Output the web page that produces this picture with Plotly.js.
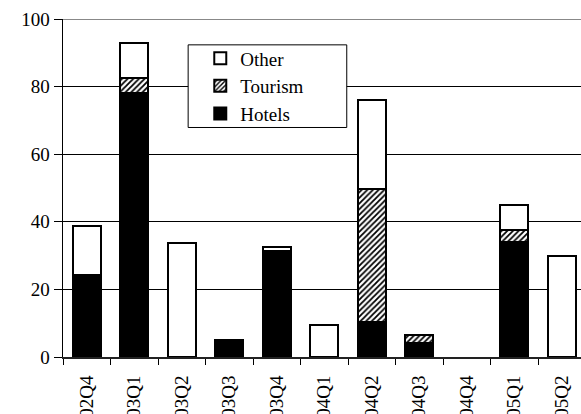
<!DOCTYPE html>
<html>
<head>
<meta charset="utf-8">
<script src="https://cdn.plot.ly/plotly-3.0.1.min.js"></script>
<style>html,body{margin:0;padding:0;background:#fff;overflow:hidden}#chart{width:581px;height:414px}</style>
</head>
<body>
<div id="chart"></div>
<script>
const categories = ["02Q4","03Q1","03Q2","03Q3","03Q4","04Q1","04Q2","04Q3","04Q4","05Q1","05Q2"];
const hotels  = [24.2, 78.0, 0, 4.9, 31.3, 0, 10.4, 4.0, 0, 34.1, 0];
const tourism = [0, 4.5, 0, 0, 0, 0, 39.2, 2.4, 0, 3.6, 0];
const other   = [14.7, 10.3, 33.6, 0, 1.3, 9.4, 26.5, 0, 0, 7.4, 29.8];
const yTicks = [0, 20, 40, 60, 80, 100];

const fam = "Times New Roman";
const font = {family: fam, size: 19, color: "#000"};
const outline = {color: "#000", width: 2};
const nz = a => a.map(v => (v === 0 ? null : v));

const traces = [
  {type: "bar", name: "Hotels", x: categories, y: nz(hotels),
   marker: {color: "#000", line: outline}},
  {type: "bar", name: "Tourism", x: categories, y: nz(tourism),
   marker: {color: "#fff", line: outline,
     pattern: {shape: "/", fgcolor: "#000", bgcolor: "#fff", size: 4, solidity: 0.45}}},
  {type: "bar", name: "Other", x: categories, y: nz(other),
   marker: {color: "#fff", line: outline}}
];

const layout = {
  width: 581, height: 414,
  margin: {l: 63, r: 0, t: 19, b: 57, pad: 0},
  paper_bgcolor: "#fff", plot_bgcolor: "#fff",
  barmode: "stack", bargap: 0.41,
  font: font,
  showlegend: true,
  legend: {x: 0.265, y: 0.94, xanchor: "left", yanchor: "top",
    traceorder: "reversed", bgcolor: "rgba(0,0,0,0)", borderwidth: 0,
    font: {family: fam, size: 19, color: "#000"}, tracegroupgap: 0},
  xaxis: {type: "category", range: [-0.5, 10.405], tickson: "boundaries",
    ticks: "outside", ticklen: 6, tickwidth: 1, tickcolor: "#000",
    ticklabelstandoff: 9,
    showline: true, linecolor: "#222", linewidth: 2, showgrid: false,
    tickangle: -90, tickfont: font, automargin: false, fixedrange: true},
  yaxis: {range: [0, 100], tickvals: yTicks, ticktext: yTicks.map(String),
    ticks: "outside", ticklen: 8, tickwidth: 1, tickcolor: "#000",
    showline: true, linecolor: "#000", linewidth: 1.5, zeroline: false,
    showgrid: true, gridcolor: "#000", gridwidth: 1,
    tickfont: font, automargin: false, fixedrange: true},
  shapes: [
    {type: "line", xref: "paper", yref: "y", x0: 0, x1: 1, y0: 100, y1: 100,
     line: {color: "#888", width: 2}},
    {type: "rect", xref: "paper", yref: "paper", layer: "above",
     x0: 0.2416, x1: 0.5478, y0: 0.679, y1: 0.9235,
     fillcolor: "#fff", line: {color: "#000", width: 1}}
  ]
};

Plotly.newPlot("chart", traces, layout, {staticPlot: true, displayModeBar: false}).then(gd => {
  gd.querySelectorAll("svg text").forEach(t => {
    t.setAttribute("font-family", "Liberation Serif");
    t.style.setProperty("font-family", "'Liberation Serif'", "important");
  });
});
</script>
</body>
</html>
